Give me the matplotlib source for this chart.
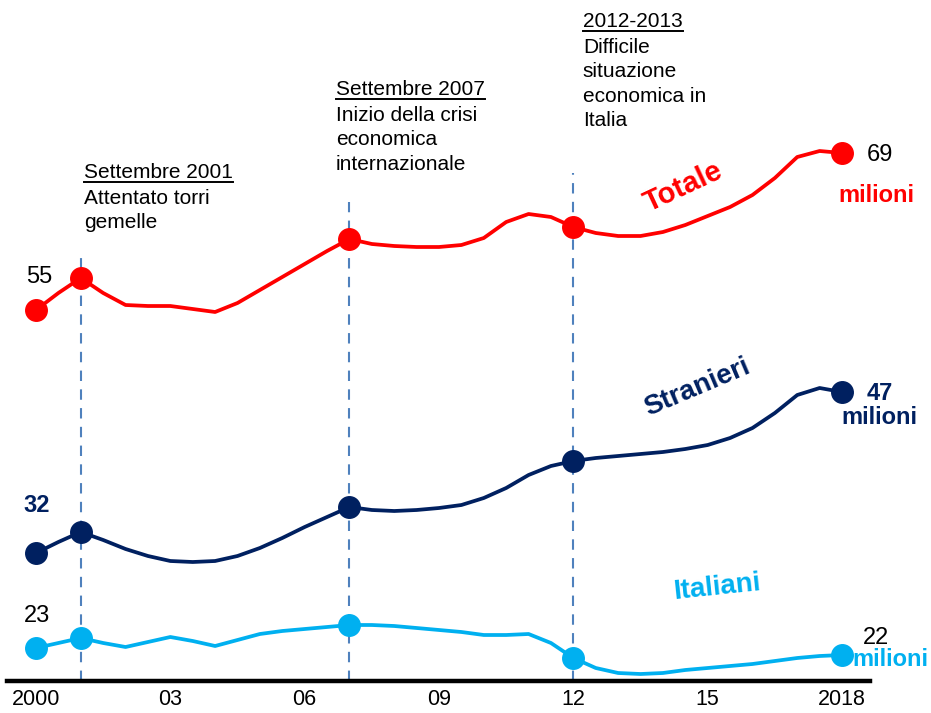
import matplotlib
matplotlib.use('Agg')
import matplotlib.pyplot as plt
from matplotlib.lines import Line2D

plt.rcParams['font.family'] = ['Liberation Sans', 'DejaVu Sans']

# anni (ogni mezzo anno) e livelli delle curve (altezza sopra l'asse)
anni = [2000 + i / 2 for i in range(37)]
totale = [371, 388, 403, 388, 376, 375, 375, 372, 369, 378, 391, 404, 417, 430, 442, 437, 435, 434, 434,
          436, 443, 459, 467, 464, 454, 448, 445, 445, 449, 456, 465, 474, 486, 503, 524, 530, 528]
stranieri = [128, 139, 149, 141, 132, 125, 120, 119, 120, 125, 133, 143, 154, 164, 174, 171, 170, 171, 173,
             176, 183, 193, 206, 215, 220, 223, 225, 227, 229, 232, 236, 243, 253, 268, 286, 293, 289]
italiani = [33, 38, 43, 38, 34, 39, 44, 40, 35, 41, 47, 50, 52, 54, 56, 56, 55, 53, 51,
            49, 46, 46, 47, 38, 23, 13, 8, 7, 8, 11, 13, 15, 17, 20, 23, 25, 26]

# anni con i punti evidenziati
anni_punti = [2000, 2001, 2007, 2012, 2018]

# eventi
eventi_anni = [2001, 2007, 2012]
eventi_titoli = ['Settembre 2001', 'Settembre 2007', '2012-2013']
eventi_testi = ['Attentato torri\ngemelle',
                'Inizio della crisi\neconomica\ninternazionale',
                'Difficile\nsituazione\neconomica in\nItalia']

tick_anni = [2000, 2003, 2006, 2009, 2012, 2015, 2018]
tick_labels = ['2000', '03', '06', '09', '12', '15', '2018']

rosso = '#FF0000'
blu = '#002060'
azzurro = '#00B0F0'
tratteggio = '#4F81BD'

fig = plt.figure(figsize=(9.31, 7.13), dpi=100)
ax = fig.add_axes([0, 32 / 713, 1, 681 / 713])
ax.set_xlim(2000 - 36 / 44.78, 2000 + 895 / 44.78)
ax.set_ylim(0, 681)

# linee tratteggiate verticali
for anno, top in zip(eventi_anni, [428, 479, 508]):
    ax.plot([anno, anno], [0, top], color=tratteggio, lw=1.5, dashes=(5, 4), zorder=1)

for serie, col in [(totale, rosso), (stranieri, blu), (italiani, azzurro)]:
    ax.plot(anni, serie, color=col, lw=2.7, solid_joinstyle='round', solid_capstyle='round', zorder=2)
    py = [serie[anni.index(a)] for a in anni_punti]
    ax.plot(anni_punti, py, 'o', color=col, ms=15.5, zorder=3)

# asse x
for s in ['top', 'right', 'left']:
    ax.spines[s].set_visible(False)
ax.spines['bottom'].set_linewidth(3.2)
ax.spines['bottom'].set_bounds(1999.35, 2018.63)
ax.set_yticks([])
ax.set_xticks(tick_anni)
ax.set_xticklabels(tick_labels, fontsize=15.5)
ax.tick_params(axis='x', length=0, pad=6)

# etichette valori
ax.text(2000.07, 404, '55', fontsize=17, ha='center', va='center')
ax.text(2000.02, 176, '32', fontsize=17, ha='center', va='center', color=blu, fontweight='bold')
ax.text(2000.02, 65, '23', fontsize=17, ha='center', va='center')
ax.text(2018.85, 526, '69', fontsize=17, ha='center', va='center')
ax.text(2018.76, 485, 'milioni', fontsize=17, ha='center', va='center', color=rosso, fontweight='bold')
ax.text(2018.85, 288, '47', fontsize=17, ha='center', va='center', color=blu, fontweight='bold')
ax.text(2018.83, 263, 'milioni', fontsize=17, ha='center', va='center', color=blu, fontweight='bold')
ax.text(2018.76, 43, '22', fontsize=17, ha='center', va='center')
ax.text(2019.08, 22, 'milioni', fontsize=17, ha='center', va='center', color=azzurro, fontweight='bold')

# nomi delle serie
ax.text(2014.45, 494, 'Totale', fontsize=21, ha='center', va='center', color=rosso,
        fontweight='bold', rotation=25)
ax.text(2014.76, 293, 'Stranieri', fontsize=20, ha='center', va='center', color=blu,
        fontweight='bold', rotation=23)
ax.text(2015.21, 94, 'Italiani', fontsize=20, ha='center', va='center', color=azzurro,
        fontweight='bold', rotation=6)

# annotazioni eventi
pos_x = [2001.07, 2006.70, 2012.21]
pos_top = [518, 601, 669]
titoli = []
for x, top, tit, testo in zip(pos_x, pos_top, eventi_titoli, eventi_testi):
    t = ax.text(x, top, tit, fontsize=15, ha='left', va='top')
    titoli.append(t)
    ax.text(x, top - 26, testo, fontsize=15, ha='left', va='top', linespacing=1.36)

fig.canvas.draw()
r = fig.canvas.get_renderer()
for t in titoli:
    bb = t.get_window_extent(r)
    fig.add_artist(Line2D([bb.x0, bb.x1], [bb.y0, bb.y0], transform=None,
                          color='black', lw=1.4))

fig.savefig('out.png', dpi=100)
